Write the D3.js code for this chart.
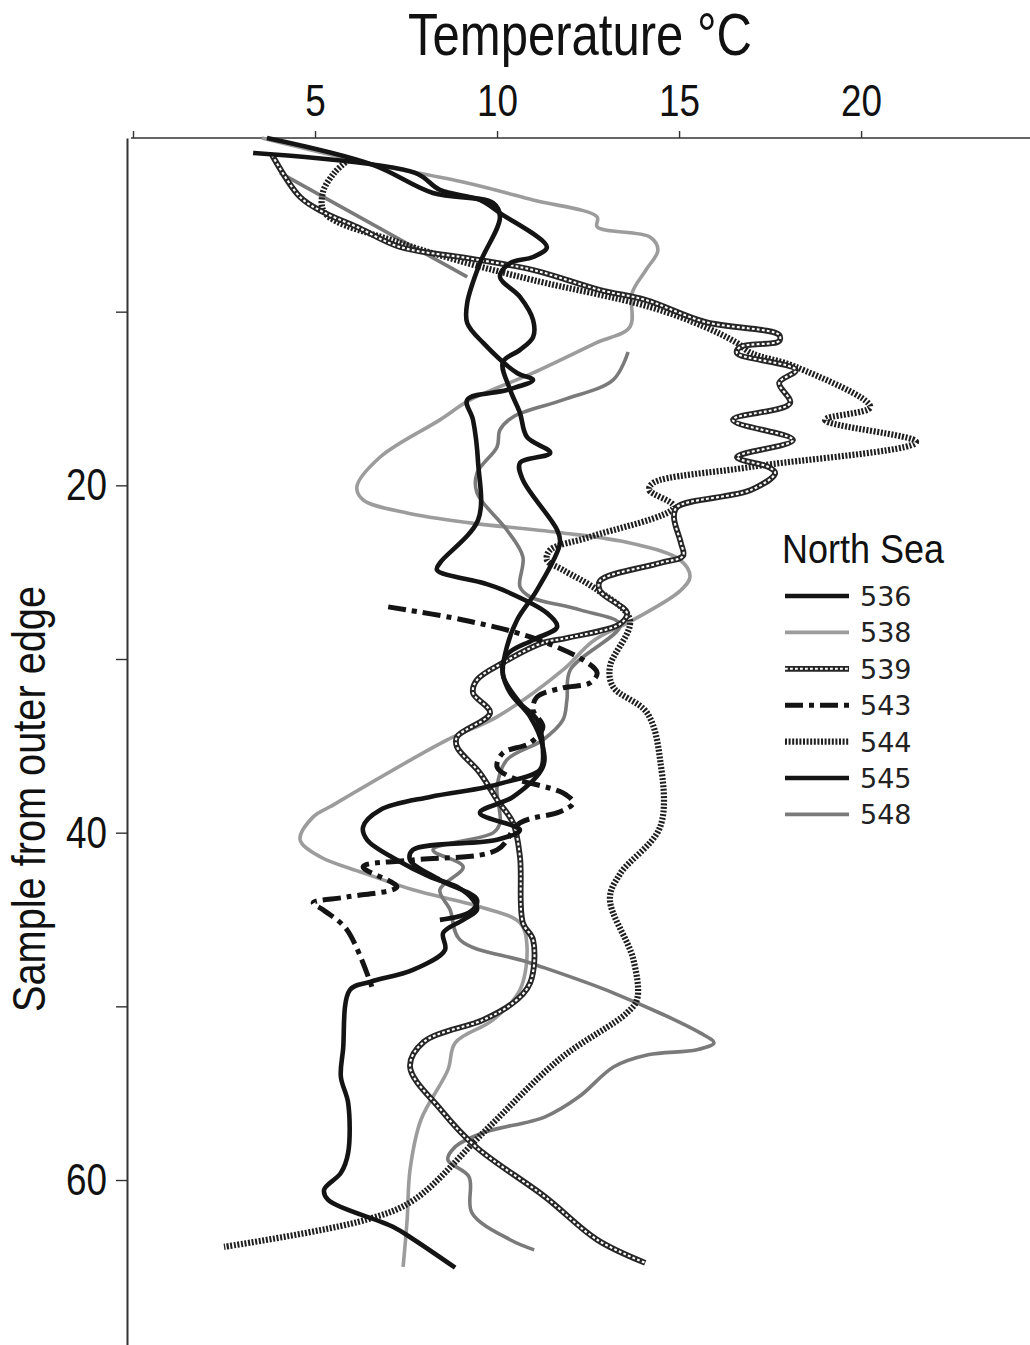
<!DOCTYPE html>
<html><head><meta charset="utf-8">
<script src="https://cdn.jsdelivr.net/npm/d3@7"></script>
<style>body{margin:0;background:#fff}</style>
</head><body>
<svg id="c" width="1030" height="1345"></svg>
<script>
// ---------- data (sample from outer edge, temperature °C) ----------
const seriesNames = ["536","538","539","543","544","545","548"];
const xTicks = [0,5,10,15,20];
const yTicks = [10,20,30,40,50,60];
const yTickLabels = [20,40,60];

const s536 = [0.86,2.01,2.99,3.57,4.32,6.28,6.85,7.20,8.00,9.15,10.48,11.46,12.2,12.9,14.5,15.83,17.21,18.13,18.71,19.69,22.57,23.32,26.02,27.75,29.30,30.80,31.95,33.33,35.06,36.21,37.94,38.86,39.84,40.41,40.99,41.57,42.72,43.87,44.56,45.02];
const t536 = [3.30,7.75,8.43,9.53,10.08,11.37,10.99,10.36,10.08,10.63,10.99,10.99,10.63,10.16,10.36,10.63,10.82,11.46,10.63,10.71,11.65,11.73,11.10,10.55,10.27,10.16,10.36,10.91,11.26,11.26,10.44,9.53,10.63,10.0,7.69,7.61,8.43,9.45,9.26,8.43];

const s545 = [0,1.55,3.17,3.74,4.55,7.20,9.50,10.65,11.80,13.53,13.93,14.51,15.08,16.23,18.71,21.99,24.47,24.87,25.62,26.02,27.35,28.15,28.90,29.76,30.92,32.53,33.51,35.23,36.38,37.13,37.42,37.94,38.69,39.67,40.41,41.57,42.54,43.12,43.87,44.44,45.02,45.77,46.75,47.90,48.59,49.05,52.50,54.06,55.56,58.43,59.59,60.56,61.14,62.69,63.44,65.05];
const t545 = [3.68,6.59,8.24,9.89,10.08,9.53,9.18,9.18,9.62,10.55,10.99,10.27,9.18,9.34,9.48,9.48,8.43,8.35,9.62,10.16,11.37,11.65,10.99,10.27,10.16,10.63,11.10,11.26,11.18,10.16,9.62,8.16,6.79,6.32,6.43,7.25,8.16,8.90,9.34,9.45,9.07,8.52,8.57,7.69,6.51,5.96,5.77,5.71,5.91,5.91,5.71,5.25,5.36,7.14,7.72,8.85];

const s539 = [0.98,3.40,4.26,5.12,6.28,6.91,7.60,8.75,9.33,10.59,11.34,11.69,12.03,12.38,13.36,14.10,15.26,16.23,17.39,18.37,18.94,19.29,20.26,21.24,21.82,23.32,24.06,24.47,25.50,26.08,27.35,27.98,28.79,29.07,30.22,31.20,31.95,33.10,34.48,35.06,36.56,38.11,39.44,41.39,45.19,46.17,48.65,49.80,50.78,52.04,53.48,55.96,58.09,60.97,63.44,64.77];
const t539 = [3.82,4.59,5.22,6.15,7.34,9.18,10.99,12.83,14.09,15.71,17.75,17.75,16.68,16.59,18.21,17.75,18.05,16.48,18.13,16.59,17.45,17.64,16.98,14.95,14.86,15.05,15.11,14.48,12.83,12.83,13.57,13.38,11.92,11.26,10.16,9.45,9.34,9.81,8.90,8.90,9.53,10.0,10.44,10.63,10.71,10.99,10.91,10.44,9.62,7.99,7.61,8.46,9.42,11.32,12.75,14.07];

const s544 = [1.27,1.96,3.11,4.32,6.04,7.20,8.18,9.73,10.88,11.80,12.38,13.18,15.49,16.23,17.50,18.94,19.86,20.26,21.24,22.97,23.72,24.30,24.87,26.02,27.75,30.45,31.61,33.10,35.81,39.67,42.37,43.81,47.27,49.57,50.37,53.02,57.11,61.14,62.29,63.85];
const t544 = [5.91,5.55,5.22,5.27,7.34,9.18,10.99,14.20,15.71,16.59,16.98,18.21,20.25,19.01,21.51,16.98,14.29,14.18,14.86,12.55,11.46,11.37,11.81,12.75,13.65,13.10,13.19,14.12,14.48,14.48,13.38,13.10,13.74,13.85,13.57,11.73,9.70,7.72,6.40,2.50];

const s543 = [27.0,27.75,28.73,30.05,30.80,31.38,31.66,32.18,32.93,33.91,34.83,35.41,36.21,36.79,37.71,38.28,38.80,39.44,40.99,41.57,41.97,43.12,43.70,44.04,44.44,45.60,49.05];
const t543 = [7.01,9.07,10.91,12.36,12.75,12.55,11.81,11.10,10.99,11.26,10.91,10.16,10.0,10.36,11.81,12.09,11.73,10.63,10.0,7.69,6.32,7.25,5.88,4.95,5.22,5.88,6.59];

const s538 = [0,1.44,2.59,3.57,4.55,5.12,5.70,6.45,7.60,8.92,10.88,11.80,13.53,15.08,16.23,18.37,20.09,20.84,21.59,22.16,22.74,23.32,24.30,25.27,26.08,27.75,28.96,30.63,33.33,34.66,38.51,39.09,40.41,41.39,42.31,43.29,44.27,45.19,46.46,49.05,50.78,52.10,53.66,56.53,59.41,62.29,65.0];
const t538 = [3.54,6.43,9.18,10.99,12.75,12.75,14.20,14.42,14.09,13.71,13.65,12.72,10.99,9.26,8.43,6.79,6.15,6.32,7.53,9.26,11.81,13.65,15.03,15.30,15.03,13.74,12.64,11.81,10.0,8.63,5.41,4.95,4.59,5.14,6.32,7.69,9.53,10.63,10.82,10.63,9.89,8.85,8.65,7.91,7.61,7.53,7.42];

const s548 = [2.01,8.00,10.0,12.32,13.93,15.08,16.06,16.81,17.79,19.29,20.44,22.57,24.12,25.85,26.42,27.17,28.04,30.63,32.35,33.51,34.66,35.81,37.36,39.44,40.01,40.99,41.97,43.29,44.44,46.17,47.50,49.22,51.53,52.10,52.50,52.79,53.48,55.21,56.36,57.28,58.09,58.84,59.82,61.89,63.44,64.02];
const t548 = [4.04,9.18,null,13.60,13.19,11.81,10.44,10.08,10.0,9.45,9.45,10.27,10.71,10.63,10.91,12.28,13.38,12.01,11.92,11.81,11.26,10.27,10.0,10.08,9.89,8.24,9.07,8.43,8.71,8.98,10.91,13.19,15.58,15.96,15.49,14.15,13.21,12.25,11.32,9.62,8.85,8.65,9.23,9.31,10.36,11.02];

// ---------- styles ----------
const styles = {
  "536": {kind:"solid", color:"#141414", width:4.6},
  "538": {kind:"solid", color:"#9c9c9c", width:3.6},
  "539": {kind:"chain", color:"#262626", width:5.8},
  "543": {kind:"dash", color:"#141414", width:5, dash:"18,6,5,6"},
  "544": {kind:"hatch", color:"#1e1e1e", width:6.2, dash:"2,1.6"},
  "545": {kind:"solid", color:"#141414", width:4.6},
  "548": {kind:"solid", color:"#7a7a7a", width:3.6}
};
const dataMap = {
  "536": [s536,t536], "538": [s538,t538], "539": [s539,t539], "543": [s543,t543],
  "544": [s544,t544], "545": [s545,t545], "548": [s548,t548]
};
const drawOrder = ["538","548","544","539","543","536","545"];

const svg = d3.select("#c");
const x = d3.scaleLinear().domain([0, 24.64]).range([133, 1030]);
const y = d3.scaleLinear().domain([0, 69.5]).range([138, 1345]);

const NARROW = "'Liberation Sans Narrow','Arial Narrow','Liberation Sans',Arial,sans-serif";
function fit(sel, w){
  sel.each(function(){
    const len = this.getComputedTextLength();
    if (len > 0 && Math.abs(len - w)/w > 0.03) {
      d3.select(this).attr("textLength", w).attr("lengthAdjust","spacingAndGlyphs");
    }
  });
}

// ---------- axes ----------
const gx = svg.append("g").attr("transform","translate(0,138)")
  .call(d3.axisTop(x).tickValues(xTicks).tickSize(7).tickSizeOuter(0).tickPadding(15)
        .tickFormat(d => d === 0 ? "" : d));
gx.select(".domain").attr("stroke","#333").attr("stroke-width",1.6).attr("d","M131,0H1030");
gx.selectAll(".tick line").attr("stroke","#333").attr("stroke-width",1.4);
gx.selectAll(".tick text").attr("font-family",NARROW).attr("font-size",45).attr("fill","#111")
  .each(function(d){ fit(d3.select(this), String(d).length*20.5); });

const gy = svg.append("g").attr("transform","translate(127,0)")
  .call(d3.axisLeft(y).tickValues(yTicks).tickSize(11).tickSizeOuter(0).tickPadding(9)
        .tickFormat(d => yTickLabels.includes(d) ? d : ""));
gy.select(".domain").attr("stroke","#333").attr("stroke-width",2);
gy.selectAll(".tick line").attr("stroke","#333").attr("stroke-width",1.4);
gy.selectAll(".tick text").attr("font-family",NARROW).attr("font-size",45).attr("fill","#111")
  .each(function(d){ if (yTickLabels.includes(d)) fit(d3.select(this), 41); });

// titles
svg.append("text").attr("x",580).attr("y",55).attr("text-anchor","middle")
  .attr("font-family",NARROW).attr("font-size",60).attr("fill","#111")
  .text("Temperature °C").call(fit, 344);
svg.append("text").attr("transform","translate(45,799) rotate(-90)").attr("text-anchor","middle")
  .attr("font-family",NARROW).attr("font-size",47).attr("fill","#111")
  .text("Sample from outer edge").call(fit, 426);

// ---------- lines ----------
const line = d3.line()
  .defined(d => d.t != null)
  .x(d => x(d.t)).y(d => y(d.s))
  .curve(d3.curveCatmullRom.alpha(0.5));

function drawStyled(g, dAttr, st){
  if (st.kind === "chain") {
    g.append("path").attr("d", dAttr).attr("fill","none").attr("stroke",st.color)
      .attr("stroke-width",st.width).attr("stroke-linejoin","round");
    g.append("path").attr("d", dAttr).attr("fill","none").attr("stroke","#fff")
      .attr("stroke-width",2.1).attr("stroke-dasharray","2.8,2.2");
  } else {
    const p = g.append("path").attr("d", dAttr).attr("fill","none").attr("stroke",st.color)
      .attr("stroke-width",st.width).attr("stroke-linejoin","round");
    if (st.dash) p.attr("stroke-dasharray", st.dash);
  }
}

drawOrder.forEach(name => {
  const [s, t] = dataMap[name];
  const pts = s.map((v,i) => ({s:v, t:t[i]}));
  const g = svg.append("g").attr("class","series s"+name);
  drawStyled(g, line(pts), styles[name]);
});

// ---------- legend ----------
const lg = svg.append("g");
lg.append("text").attr("x",782).attr("y",563).attr("font-family",NARROW).attr("font-size",40)
  .attr("fill","#111").text("North Sea").call(fit, 162);
seriesNames.forEach((name,i) => {
  const yy = 596 + i*36.4;
  const g = lg.append("g");
  drawStyled(g, `M785,${yy}H849`, styles[name]);
  g.append("text").attr("x",860).attr("y",yy+10).attr("font-family","'DejaVu Sans',Verdana,sans-serif")
    .attr("font-size",27).attr("fill","#222").text(name);
});
</script>
</body></html>
